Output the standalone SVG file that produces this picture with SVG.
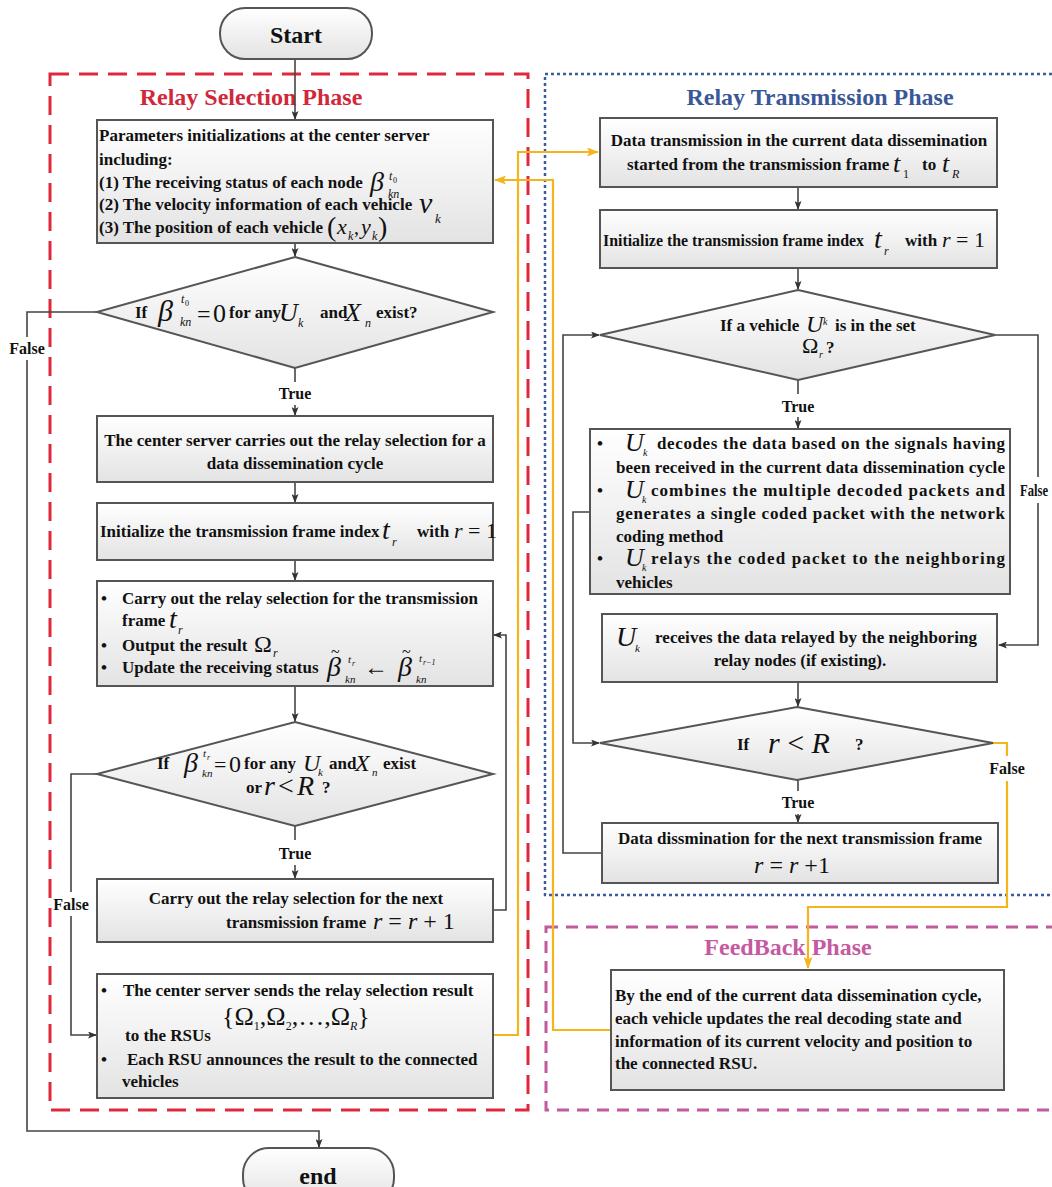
<svg xmlns="http://www.w3.org/2000/svg" width="1052" height="1187" viewBox="0 0 1052 1187">
<defs>
<linearGradient id="g" x1="0" y1="0" x2="0" y2="1">
<stop offset="0" stop-color="#ffffff"/>
<stop offset="1" stop-color="#e3e3e3"/>
</linearGradient>
<marker id="ab" markerWidth="9" markerHeight="7" refX="8" refY="3.5" orient="auto" markerUnits="userSpaceOnUse">
<path d="M0,0 L9,3.5 L0,7 L2,3.5 z" fill="#333"/>
</marker>
<marker id="ay" markerWidth="12" markerHeight="9" refX="11" refY="4.5" orient="auto" markerUnits="userSpaceOnUse">
<path d="M0,0 L12,4.5 L0,9 L2.5,4.5 z" fill="#f4b41e"/>
</marker>
<style>
.t{font-family:"Liberation Serif","Times New Roman",serif;font-weight:bold;font-size:17px;fill:#111}
.h{font-family:"Liberation Serif","Times New Roman",serif;font-weight:bold;font-size:24px}
.m{font-family:"Liberation Serif","Times New Roman",serif;font-style:italic;fill:#111}
.n{font-family:"Liberation Serif","Times New Roman",serif;fill:#111}
.box{fill:url(#g);stroke:#555;stroke-width:2}
.c{fill:none;stroke:#444;stroke-width:1.6}
.y{fill:none;stroke:#f4b41e;stroke-width:2.2}
.lbl{font-family:"Liberation Serif","Times New Roman",serif;font-weight:bold;font-size:16px;fill:#111;text-anchor:middle}
</style>
</defs>
<rect width="1052" height="1187" fill="#ffffff"/>

<!-- phase frames -->
<g id="phases">
<rect x="50" y="74" width="478" height="1036" fill="none" stroke="#e0283c" stroke-width="3" stroke-dasharray="19 10"/>
<rect x="545" y="74" width="520" height="821" fill="none" stroke="#3b5ba0" stroke-width="2.5" stroke-dasharray="3 3"/>
<rect x="546" y="927" width="520" height="183" fill="none" stroke="#c25b9e" stroke-width="3" stroke-dasharray="12 8"/>
<text class="h" x="251" y="105" text-anchor="middle" fill="#d0283a">Relay Selection Phase</text>
<text class="h" x="820" y="105" text-anchor="middle" fill="#3a5898">Relay Transmission Phase</text>
<text class="h" x="788" y="955" text-anchor="middle" fill="#c45aa0">FeedBack Phase</text>
</g>

<!-- connectors -->
<g id="connectors">
<path class="c" d="M295,59 V119" marker-end="url(#ab)"/>
<path class="c" d="M295,243 V256" marker-end="url(#ab)"/>
<path class="c" d="M295,368 V382"/>
<path class="c" d="M295,405 V415" marker-end="url(#ab)"/>
<path class="c" d="M295,482 V502" marker-end="url(#ab)"/>
<path class="c" d="M295,560 V580" marker-end="url(#ab)"/>
<path class="c" d="M295,686 V721" marker-end="url(#ab)"/>
<path class="c" d="M295,826 V840"/>
<path class="c" d="M295,865 V878" marker-end="url(#ab)"/>
<path class="c" d="M493,910 H506 V635 H494" marker-end="url(#ab)"/>
<path class="c" d="M97,312 H27 V337"/>
<path class="c" d="M27,360 V1131 H319 V1147" marker-end="url(#ab)"/>
<path class="c" d="M97,774 H71 V892"/>
<path class="c" d="M71,916 V1035 H96" marker-end="url(#ab)"/>
<path class="c" d="M798,187 V209" marker-end="url(#ab)"/>
<path class="c" d="M798,268 V289" marker-end="url(#ab)"/>
<path class="c" d="M798,380 V394"/>
<path class="c" d="M798,417 V428" marker-end="url(#ab)"/>
<path class="c" d="M995,335 H1038 V477"/>
<path class="c" d="M1038,503 V645 H999" marker-end="url(#ab)"/>
<path class="c" d="M590,512 H573 V743 H599" marker-end="url(#ab)"/>
<path class="c" d="M798,682 V706" marker-end="url(#ab)"/>
<path class="c" d="M798,780 V791"/>
<path class="c" d="M798,814 V822" marker-end="url(#ab)"/>
<path class="c" d="M602,853 H563 V335 H599" marker-end="url(#ab)"/>
<path class="y" d="M493,1035 H518 V152 H598" marker-end="url(#ay)"/>
<path class="y" d="M611,1030 H553 V180 H495" marker-end="url(#ay)"/>
<path class="y" d="M993,743 H1007 V756"/>
<path class="y" d="M1007,781 V907 H808 V968" marker-end="url(#ay)"/>
<text class="lbl" x="27" y="354">False</text>
<text class="lbl" x="71" y="910">False</text>
<text class="lbl" x="295" y="399">True</text>
<text class="lbl" x="295" y="859">True</text>
<text class="lbl" x="798" y="412">True</text>
<text class="lbl" x="798" y="808">True</text>
<text class="lbl" x="1034" y="496" textLength="28" lengthAdjust="spacingAndGlyphs">False</text>
<text class="lbl" x="1007" y="774">False</text>
</g>

<g id="start">
<rect class="box" x="220" y="8" width="152" height="51" rx="25"/>
<text class="h" x="296" y="43" text-anchor="middle" fill="#111">Start</text>
</g>

<g id="end">
<rect class="box" x="243" y="1148" width="151" height="56" rx="26"/>
<text class="h" x="318" y="1184" text-anchor="middle" fill="#111">end</text>
</g>

<g id="init-params">
<rect class="box" x="97" y="120" width="396" height="123"/>
<text class="t" x="99" y="141">Parameters initializations at the center server</text>
<text class="t" x="99" y="165">including:</text>
<text class="t" x="99" y="188">(1) The receiving status of each node</text>
<text class="m" x="370" y="191" font-size="28">β</text>
<text class="m" x="389" y="180" font-size="12">t</text>
<text class="n" x="393" y="183" font-size="8">0</text>
<text class="m" x="388" y="198" font-size="12">kn</text>
<text class="t" x="99" y="210">(2) The velocity information of each vehicle</text>
<text class="m" x="419" y="213" font-size="30">v</text>
<text class="m" x="435" y="223" font-size="13">k</text>
<text class="t" x="99" y="233">(3) The position of each vehicle</text>
<text class="n" x="327" y="236" font-size="28">(</text>
<text class="m" x="337" y="234" font-size="22">x</text>
<text class="m" x="348" y="240" font-size="12">k</text>
<text class="n" x="354" y="234" font-size="20">,</text>
<text class="m" x="361" y="234" font-size="22">y</text>
<text class="m" x="372" y="240" font-size="12">k</text>
<text class="n" x="378" y="236" font-size="28">)</text>
</g>

<g id="decision-any">
<polygon class="box" points="295,257 493,312 295,368 97,312"/>
<text class="t" x="135" y="318" font-size="16">If</text>
<text class="m" x="158" y="321" font-size="30">β</text>
<text class="m" x="181" y="303" font-size="12">t</text>
<text class="n" x="185" y="306" font-size="8">0</text>
<text class="m" x="180" y="326" font-size="12">kn</text>
<text class="n" x="197" y="322" font-size="24">=</text>
<text class="n" x="213" y="322" font-size="26">0</text>
<text class="t" x="229" y="318" font-size="16">for any</text>
<text class="m" x="279" y="321" font-size="26">U</text>
<text class="m" x="298" y="327" font-size="12">k</text>
<text class="t" x="320" y="318" font-size="16">and</text>
<text class="m" x="345" y="321" font-size="26">X</text>
<text class="m" x="365" y="327" font-size="12">n</text>
<text class="t" x="376" y="318" font-size="16">exist?</text>
</g>

<g id="relay-cycle">
<rect class="box" x="97" y="416" width="396" height="66"/>
<text class="t" x="295" y="446" text-anchor="middle">The center server carries out the relay selection for a</text>
<text class="t" x="295" y="469" text-anchor="middle">data dissemination cycle</text>
</g>

<g id="init-index-left">
<rect class="box" x="97" y="503" width="396" height="57"/>
<text class="t" x="100" y="537">Initialize the transmission frame index</text>
<text class="m" x="382" y="539" font-size="28">t</text>
<text class="m" x="392" y="546" font-size="12">r</text>
<text class="t" x="417" y="537">with</text>
<text class="m" x="454" y="538" font-size="22">r<tspan class="n" font-style="normal"> = 1</tspan></text>
</g>

<g id="relay-frame">
<rect class="box" x="97" y="581" width="396" height="105"/>
<text class="t" x="101" y="604">•</text>
<text class="t" x="122" y="604">Carry out the relay selection for the transmission</text>
<text class="t" x="122" y="626">frame</text>
<text class="m" x="169" y="628" font-size="28">t</text>
<text class="m" x="178" y="634" font-size="12">r</text>
<text class="t" x="101" y="651">•</text>
<text class="t" x="122" y="651">Output the result</text>
<text class="n" x="254" y="652" font-size="24">Ω</text>
<text class="m" x="273" y="657" font-size="12">r</text>
<text class="t" x="101" y="673">•</text>
<text class="t" x="122" y="673">Update the receiving status</text>
<text class="m" x="327" y="676" font-size="28">β</text>
<text class="n" x="331" y="657" font-size="16">~</text>
<text class="m" x="348" y="663" font-size="11">t</text>
<text class="m" x="352" y="666" font-size="8">r</text>
<text class="m" x="345" y="683" font-size="11">kn</text>
<text class="n" x="364" y="675" font-size="24">←</text>
<text class="m" x="398" y="676" font-size="28">β</text>
<text class="n" x="402" y="657" font-size="16">~</text>
<text class="m" x="419" y="662" font-size="11">t</text>
<text class="m" x="423" y="665" font-size="8">r−1</text>
<text class="m" x="416" y="683" font-size="11">kn</text>
</g>

<g id="decision-loop">
<polygon class="box" points="295,722 493,774 295,826 97,774"/>
<text class="t" x="157" y="769" font-size="16">If</text>
<text class="m" x="184" y="772" font-size="28">β</text>
<text class="m" x="203" y="757" font-size="11">t</text>
<text class="m" x="207" y="760" font-size="8">r</text>
<text class="m" x="202" y="777" font-size="11">kn</text>
<text class="n" x="214" y="772" font-size="22">=</text>
<text class="n" x="229" y="772" font-size="24">0</text>
<text class="t" x="244" y="769" font-size="16">for any</text>
<text class="m" x="303" y="771" font-size="24">U</text>
<text class="m" x="318" y="776" font-size="11">k</text>
<text class="t" x="329" y="769" font-size="16">and</text>
<text class="m" x="355" y="771" font-size="24">X</text>
<text class="m" x="372" y="776" font-size="11">n</text>
<text class="t" x="383" y="769" font-size="16">exist</text>
<text class="t" x="246" y="793" font-size="16">or</text>
<text class="m" x="264" y="795" font-size="28">r</text>
<text class="n" x="278" y="795" font-size="28">&lt;</text>
<text class="m" x="297" y="795" font-size="28">R</text>
<text class="t" x="322" y="793" font-size="16">?</text>
</g>

<g id="next-frame-left">
<rect class="box" x="97" y="879" width="396" height="63"/>
<text class="t" x="296" y="904" text-anchor="middle">Carry out the relay selection for the next</text>
<text class="t" x="226" y="928">transmission frame</text>
<text class="m" x="373" y="929" font-size="24">r <tspan class="n" font-style="normal">=</tspan> r <tspan class="n" font-style="normal">+ 1</tspan></text>
</g>

<g id="send-result">
<rect class="box" x="97" y="974" width="396" height="124"/>
<text class="t" x="101" y="996">•</text>
<text class="t" x="123" y="996">The center server sends the relay selection result</text>
<text class="n" x="222" y="1025" font-size="26">{Ω<tspan font-size="12" dy="5">1</tspan><tspan dy="-5">,Ω</tspan><tspan font-size="12" dy="5">2</tspan><tspan dy="-5">,…,Ω</tspan><tspan class="m" font-size="12" dy="5">R</tspan><tspan dy="-5">}</tspan></text>
<text class="t" x="125" y="1041">to the RSUs</text>
<text class="t" x="101" y="1065">•</text>
<text class="t" x="127" y="1065">Each RSU announces the result to the connected</text>
<text class="t" x="122" y="1087">vehicles</text>
</g>

<g id="data-transmission">
<rect class="box" x="600" y="118" width="397" height="69"/>
<text class="t" x="799" y="146" text-anchor="middle">Data transmission in the current data dissemination</text>
<text class="t" x="627" y="170">started from the transmission frame</text>
<text class="m" x="893" y="172" font-size="26">t</text>
<text class="n" x="903" y="178" font-size="12">1</text>
<text class="t" x="922" y="170">to</text>
<text class="m" x="942" y="172" font-size="26">t</text>
<text class="m" x="952" y="178" font-size="12">R</text>
</g>

<g id="init-index-right">
<rect class="box" x="600" y="210" width="397" height="58"/>
<text class="t" x="603" y="246" textLength="261" lengthAdjust="spacingAndGlyphs">Initialize the transmission frame index</text>
<text class="m" x="874" y="248" font-size="28">t</text>
<text class="m" x="884" y="255" font-size="12">r</text>
<text class="t" x="905" y="246">with</text>
<text class="m" x="942" y="247" font-size="22">r<tspan class="n" font-style="normal"> = 1</tspan></text>
</g>

<g id="decision-vehicle">
<polygon class="box" points="798,290 995,335 798,380 600,335"/>
<text class="t" x="720" y="331">If a vehicle</text>
<text class="m" x="806" y="332" font-size="24">U</text>
<text class="m" x="823" y="325" font-size="10">k</text>
<text class="t" x="835" y="331">is in the set</text>
<text class="n" x="802" y="353" font-size="22">Ω</text>
<text class="m" x="819" y="358" font-size="10">r</text>
<text class="t" x="826" y="353">?</text>
</g>

<g id="relay-actions">
<rect class="box" x="590" y="429" width="420" height="165"/>
<text class="t" x="597" y="449">•</text>
<text class="m" x="625" y="451" font-size="26">U</text>
<text class="m" x="643" y="456" font-size="10">k</text>
<text class="t" x="657" y="449" textLength="348" lengthAdjust="spacing">decodes the data based on the signals having</text>
<text class="t" x="616" y="473" textLength="389" lengthAdjust="spacing">been received in the current data dissemination cycle</text>
<text class="t" x="597" y="496">•</text>
<text class="m" x="625" y="498" font-size="26">U</text>
<text class="m" x="642" y="503" font-size="10">k</text>
<text class="t" x="651" y="496" textLength="354" lengthAdjust="spacing">combines the multiple decoded packets  and</text>
<text class="t" x="616" y="519" textLength="389" lengthAdjust="spacing">generates a single coded packet with the network</text>
<text class="t" x="616" y="542">coding method</text>
<text class="t" x="597" y="564">•</text>
<text class="m" x="625" y="566" font-size="26">U</text>
<text class="m" x="642" y="571" font-size="10">k</text>
<text class="t" x="651" y="564" textLength="354" lengthAdjust="spacing">relays the coded packet to the neighboring</text>
<text class="t" x="616" y="588">vehicles</text>
</g>

<g id="receive-data">
<rect class="box" x="602" y="614" width="395" height="68"/>
<text class="m" x="616" y="646" font-size="28">U</text>
<text class="m" x="635" y="652" font-size="11">k</text>
<text class="t" x="655" y="643" textLength="322" lengthAdjust="spacing">receives the data relayed by the neighboring</text>
<text class="t" x="800" y="666" text-anchor="middle">relay nodes (if existing).</text>
</g>

<g id="decision-r">
<polygon class="box" points="797,707 993,743 797,780 600,743"/>
<text class="t" x="737" y="750">If</text>
<text class="m" x="768" y="753" font-size="30">r <tspan class="n" font-style="normal">&lt;</tspan> R</text>
<text class="t" x="855" y="750">?</text>
</g>

<g id="next-frame-right">
<rect class="box" x="602" y="823" width="396" height="60"/>
<text class="t" x="800" y="844" text-anchor="middle">Data dissmination for the next transmission frame</text>
<text class="m" x="792" y="873" font-size="24" text-anchor="middle">r <tspan class="n" font-style="normal">=</tspan> r <tspan class="n" font-style="normal">+1</tspan></text>
</g>

<g id="feedback">
<rect class="box" x="611" y="970" width="393" height="120"/>
<text class="t" x="615" y="1001">By the end of the current data dissemination cycle,</text>
<text class="t" x="615" y="1024">each vehicle updates the real decoding state and</text>
<text class="t" x="615" y="1047">information of its current velocity and position to</text>
<text class="t" x="615" y="1069">the connected RSU.</text>
</g>
</svg>
